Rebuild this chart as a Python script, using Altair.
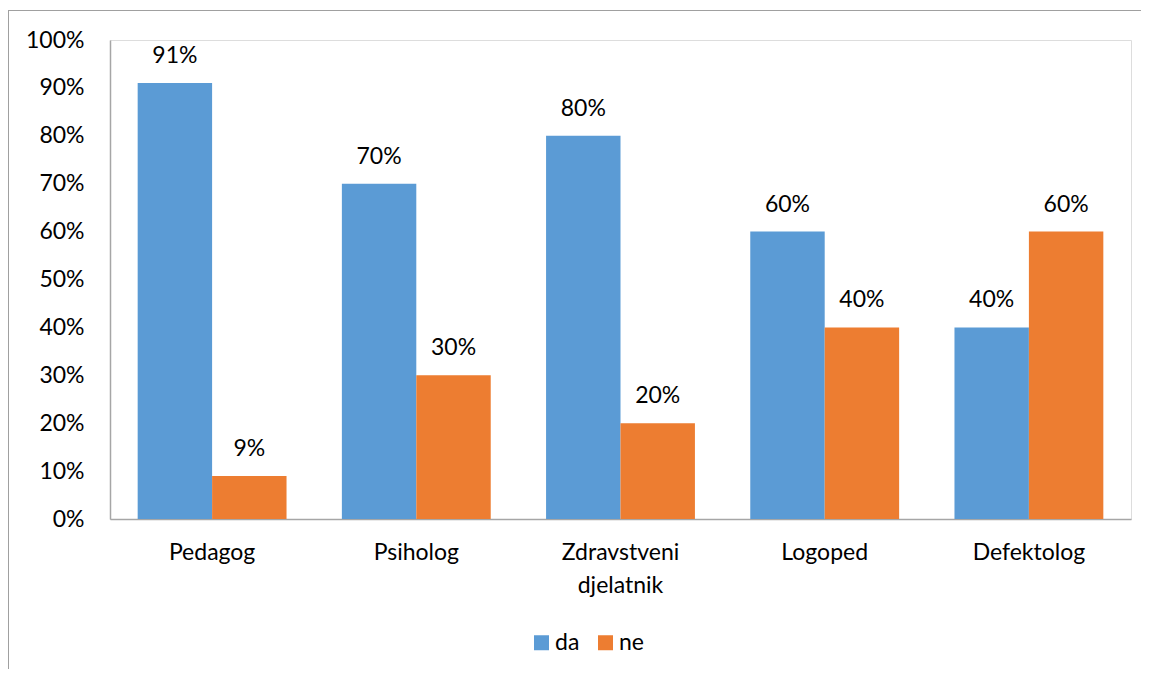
import altair as alt
import pandas as pd

categories = ["Pedagog", "Psiholog", "Zdravstveni djelatnik", "Logoped", "Defektolog"]
series = ["da", "ne"]
da_values = [0.91, 0.70, 0.80, 0.60, 0.40]
ne_values = [0.09, 0.30, 0.20, 0.40, 0.60]
colors = ["#5B9BD5", "#ED7D31"]
y_ticks = [0, 0.1, 0.2, 0.3, 0.4, 0.5, 0.6, 0.7, 0.8, 0.9, 1.0]

rows = []
for c, a, b in zip(categories, da_values, ne_values):
    rows.append({"kat": c, "serija": "da", "v": a})
    rows.append({"kat": c, "serija": "ne", "v": b})
df = pd.DataFrame(rows)

FONT = "Lato"
FS = 23

x_enc = alt.X(
    "kat:N",
    sort=categories,
    title=None,
    scale=alt.Scale(paddingInner=0.271, paddingOuter=0.1355),
    axis=alt.Axis(
        labelAngle=0,
        ticks=False,
        domainColor="#A6A6A6",
        domainWidth=1.5,
        labelPadding=22,
        labelFont=FONT,
        labelFontSize=FS,
        labelColor="#000000",
        labelLineHeight=33,
        labelExpr="datum.label == 'Zdravstveni djelatnik' ? ['Zdravstveni', 'djelatnik'] : datum.label",
    ),
)
y_enc = alt.Y(
    "v:Q",
    title=None,
    scale=alt.Scale(domain=[0, 1], nice=False),
    axis=alt.Axis(
        values=y_ticks,
        format=".0%",
        grid=False,
        ticks=False,
        domainColor="#A6A6A6",
        domainWidth=1.5,
        labelPadding=26,
        labelFont=FONT,
        labelFontSize=FS,
        labelColor="#000000",
    ),
)
color_enc = alt.Color(
    "serija:N",
    scale=alt.Scale(domain=series, range=colors),
    legend=alt.Legend(
        title=None,
        orient="none",
        direction="horizontal",
        legendX=420,
        legendY=591,
        symbolType="square",
        symbolSize=225,
        symbolStrokeWidth=0,
        labelFont=FONT,
        labelFontSize=FS,
        labelColor="#000000",
        labelOffset=2,
        columnPadding=14,
    ),
)

base = alt.Chart(df)

bars = base.mark_bar(opacity=1).encode(
    x=x_enc,
    xOffset=alt.XOffset("serija:N", sort=series, scale=alt.Scale(paddingInner=0, paddingOuter=0)),
    y=y_enc,
    color=color_enc,
)

labels = base.mark_text(
    baseline="middle", align="center", dy=-27, font=FONT, fontSize=FS, color="#000000"
).encode(
    x=alt.X("kat:N", sort=categories),
    xOffset=alt.XOffset("serija:N", sort=series),
    y=alt.Y("v:Q"),
    text=alt.Text("v:Q", format=".0%"),
)

# outer chart frame (decoration) drawn as thin filled strips
frame = alt.Data(values=[{"k": 1}])
left_border = alt.Chart(frame).mark_rect(color="#A0A0A0", strokeWidth=0).encode(
    x=alt.value(-102), x2=alt.value(-101), y=alt.value(-30), y2=alt.value(629)
)
top_border = alt.Chart(frame).mark_rect(color="#A0A0A0", strokeWidth=0).encode(
    x=alt.value(-102), x2=alt.value(1031), y=alt.value(-30), y2=alt.value(-29)
)

chart = (
    alt.layer(left_border, top_border, bars, labels)
    .properties(
        width=1021,
        height=479,
        autosize=alt.AutoSizeParams(type="none"),
        padding={"left": 102, "top": 32, "right": 10, "bottom": 150},
    )
    .configure_view(strokeWidth=0, stroke="transparent")
    .configure(background="transparent")
)

chart.save("out.html", embed_options={"renderer": "svg", "actions": False})
